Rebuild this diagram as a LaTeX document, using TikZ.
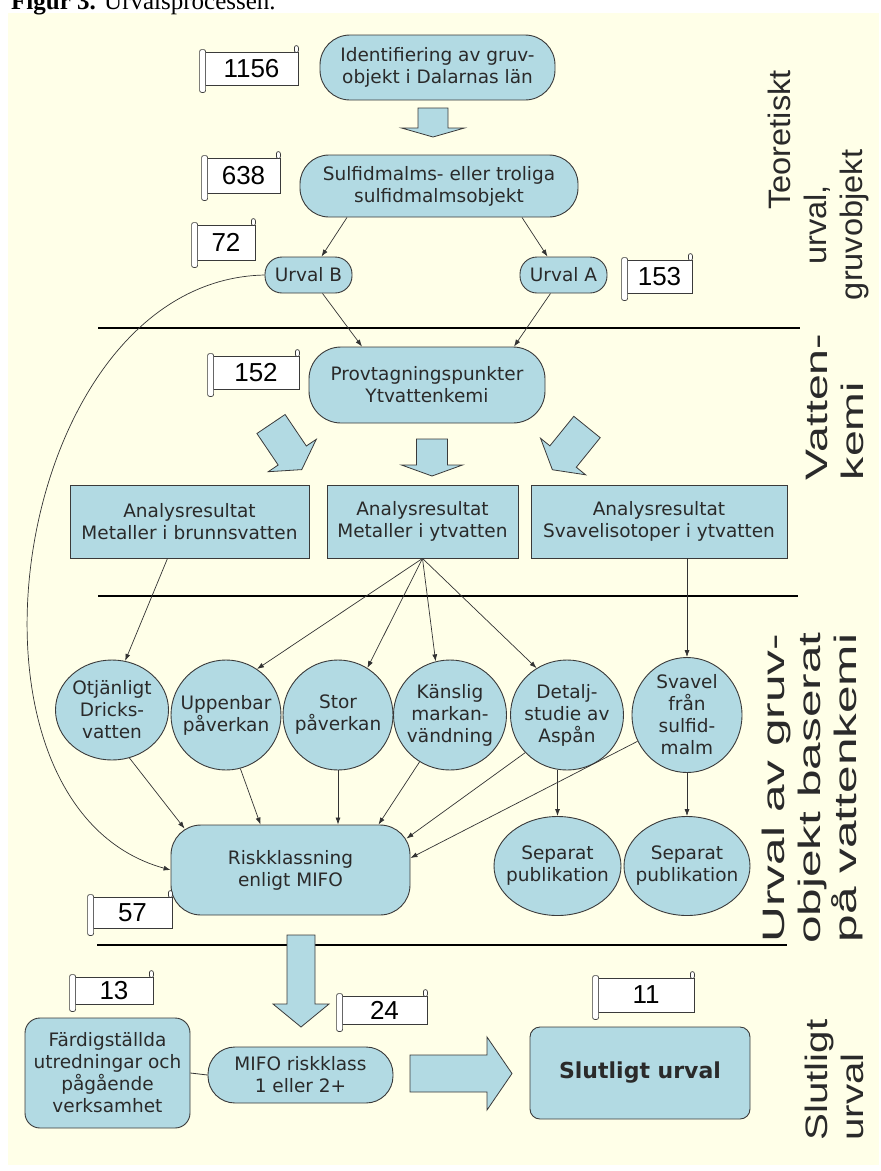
\documentclass[tikz,border=0pt]{standalone}
\usepackage{fontspec}
\usepackage{xcolor}
\usetikzlibrary{arrows.meta,shapes.geometric}
\newfontfamily\rutfont{DejaVu Sans}
\newfontfamily\talfont{Liberation Sans}
\newfontfamily\stegfontsmal[FakeStretch=1.05]{Liberation Sans}
\newfontfamily\stegfont[FakeStretch=1.3]{Liberation Sans}
\newfontfamily\stegfontbred[FakeStretch=1.5]{Liberation Sans}
\newfontfamily\stegfontxbred[FakeStretch=1.6]{Liberation Sans}
\newfontfamily\rubrikfont{Liberation Serif}
\definecolor{Gradde}{HTML}{FFFFE8}
\definecolor{RutFill}{HTML}{B2DAE3}
\definecolor{RutLine}{HTML}{3A3A3A}
\definecolor{RutText}{HTML}{2A2A2A}
\definecolor{PilLine}{HTML}{333333}
\tikzset{
  rut/.style={
    draw=RutLine,
    fill=RutFill,
    line width=0.9pt,
    inner sep=2pt,
    align=center,
    font=\rutfont\fontsize{18.5}{22}\selectfont,
    text=RutText,
  },
  pille/.style={rut, rectangle},
  urvalsboll/.style={rut, ellipse, inner sep=-12pt},
  tal/.style={
    draw=RutLine,
    fill=white,
    line width=0.8pt,
    inner sep=0pt,
    font=\talfont\fontsize{26}{26}\selectfont,
  },
  rulle/.style={draw=RutLine, fill=white, line width=0.7pt, rounded corners=2pt},
  flow/.style={
    -{Latex[length=7pt,width=5pt]},
    line width=0.7pt,
    draw=PilLine,
  },
  skiljelinje/.style={line width=1.1pt, draw=black},
  pilkropp/.style={draw=RutLine, fill=RutFill, line width=0.8pt, line join=miter},
  sidotext/.style={
    rotate=90,
    inner sep=0pt,
    font=#1\fontsize{31}{36}\selectfont,
    text=RutText,
  },
  pics/blockpil/.style args={#1/#2/#3/#4}{code={
    \draw[pilkropp] (0,-#2/2) -- (#1-#4,-#2/2) -- (#1-#4,-#3/2) -- (#1,0)
      -- (#1-#4,#3/2) -- (#1-#4,#2/2) -- (0,#2/2) -- cycle;
  }},
}

\begin{document}
\begin{tikzpicture}[x=1pt, y=-1pt]
  \useasboundingbox (0,0) rectangle (881,1171);
  \clip (0,0) rectangle (881,1171);
  \fill[Gradde] (8,13) rectangle (879,1165);

  % rubrik
  \node[anchor=base west, inner sep=0pt, font=\rubrikfont\fontsize{25}{25}\selectfont]
    (rubrik) at (11,9) {\textbf{Figur 3.} Urvalsprocessen.};

  % skiljelinjer
  \draw[skiljelinje] (98,328) -- (800,328);
  \draw[skiljelinje] (98,596) -- (798,596);
  \draw[skiljelinje] (97,945) -- (787,945);

  % teoretiskt urval
  \node[pille, rounded corners=30pt, minimum width=235pt, minimum height=65pt]
    (ident) at (437.5,67.5) {Identifiering av gruv-\\objekt i Dalarnas län};
  \node[pille, rounded corners=29pt, minimum width=278pt, minimum height=62pt]
    (sulf) at (439,186) {Sulfidmalms- eller troliga\\sulfidmalmsobjekt};
  \node[pille, rounded corners=17pt, minimum width=87pt, minimum height=36pt]
    (urvB) at (308.5,275) {Urval B};
  \node[pille, rounded corners=17pt, minimum width=87pt, minimum height=36pt]
    (urvA) at (563.5,275) {Urval A};

  % vattenkemi
  \node[pille, rounded corners=32pt, minimum width=236pt, minimum height=76pt]
    (prov) at (427,385) {Provtagningspunkter\\Ytvattenkemi};
  \node[pille, minimum width=239pt, minimum height=73pt]
    (box1) at (189.5,521.5) {Analysresultat\\Metaller i brunnsvatten};
  \node[pille, minimum width=191pt, minimum height=73pt]
    (box2) at (422.5,521.5) {Analysresultat\\Metaller i ytvatten};
  \node[pille, minimum width=256pt, minimum height=73pt]
    (box3) at (659,521.5) {Analysresultat\\Svavelisotoper i ytvatten};

  % urval baserat på vattenkemi
  \node[urvalsboll, minimum width=113pt, minimum height=100pt]
    (otj) at (112,710) {Otjänligt\\Dricks-\\vatten};
  \node[urvalsboll, minimum width=110pt, minimum height=110pt]
    (upp) at (226,715) {Uppenbar\\påverkan};
  \node[urvalsboll, minimum width=110pt, minimum height=110pt]
    (stor) at (338,715) {Stor\\påverkan};
  \node[urvalsboll, minimum width=113pt, minimum height=110pt]
    (knl) at (450,715) {Känslig\\markan-\\vändning};
  \node[urvalsboll, minimum width=113pt, minimum height=110pt]
    (det) at (567,715) {Detalj-\\studie av\\Aspån};
  \node[urvalsboll, minimum width=110pt, minimum height=115pt]
    (sv) at (687,715) {Svavel\\från\\sulfid-\\malm};
  \node[pille, rounded corners=30pt, minimum width=239pt, minimum height=90pt]
    (risk) at (290.5,870) {Riskklassning\\enligt MIFO};
  \node[urvalsboll, minimum width=127pt, minimum height=99pt]
    (sep1) at (557.5,866) {Separat\\publikation};
  \node[urvalsboll, minimum width=126pt, minimum height=99pt]
    (sep2) at (687,866) {Separat\\publikation};

  % slutligt urval
  \node[pille, rounded corners=15pt, minimum width=165pt, minimum height=110pt]
    (ferd) at (107.5,1073) {Färdigställda\\utredningar och\\pågående\\verksamhet};
  \node[pille, rounded corners=27pt, minimum width=185pt, minimum height=56pt]
    (mifo) at (300.5,1075) {MIFO riskklass\\1 eller 2+};
  \node[pille, rounded corners=10pt, minimum width=220pt, minimum height=92pt,
    font=\rutfont\bfseries\fontsize{22}{26}\selectfont]
    (slut) at (640,1073) {Slutligt urval};

  % antal
  \node[tal, minimum width=93pt, minimum height=33pt] (t1156) at (251.5,68.5) {1156};
  \node[tal, minimum width=73pt, minimum height=35pt] (t638) at (243.5,175.5) {638};
  \node[tal, minimum width=58pt, minimum height=35pt] (t72) at (226,242.5) {72};
  \node[tal, minimum width=65pt, minimum height=33pt] (t153) at (659.5,276.5) {153};
  \node[tal, minimum width=86pt, minimum height=33pt] (t152) at (256,372.5) {152};
  \node[tal, minimum width=79pt, minimum height=31pt] (t57) at (132.5,912.5) {57};
  \node[tal, minimum width=78pt, minimum height=27pt] (t13) at (114,990.5) {13};
  \node[tal, minimum width=85pt, minimum height=28pt] (t24) at (384.5,1010) {24};
  \node[tal, minimum width=96pt, minimum height=34pt] (t11) at (646,995) {11};
  \foreach \tn in {t1156,t638,t72,t153,t152,t57,t13,t24,t11}{
    \draw[rulle] ([xshift=-5pt,yshift=2pt]\tn.north west)
      rectangle ([xshift=1pt,yshift=-7pt]\tn.south west);
    \draw[rulle] ([xshift=-4pt,yshift=-1pt]\tn.north east)
      rectangle ([yshift=6pt]\tn.north east);
  }

  % blockpilar
  \pic[rotate=-90] at (433,108) {blockpil=29/30/63/9};
  \pic[rotate=-90] at (432,439) {blockpil=37/31/61/11};
  \pic[rotate=-56] at (271,424) {blockpil=55/34/58/17};
  \pic[rotate=-129] at (587,427) {blockpil=55/34/58/17};
  \pic[rotate=-90] at (301,935) {blockpil=92/28/56/23};
  \pic at (410,1073.5) {blockpil=102/37/73/25};

  % pilar
  \draw[flow] ([xshift=-92pt]sulf.south) -- ([xshift=13pt]urvB.north);
  \draw[flow] ([xshift=83pt]sulf.south) -- ([xshift=-16pt]urvA.north);
  \draw[flow] ([xshift=14pt]urvB.south) -- ([xshift=-65pt]prov.north);
  \draw[flow] ([xshift=-13pt]urvA.south) -- ([xshift=87pt]prov.north);
  \draw[flow] (urvB.west) .. controls (10,280) and (-65,805) .. (risk.west);
  \draw[flow] ([xshift=-22pt]box1.south) -- (otj.75);
  \foreach \mal/\vinkel in {upp/56, stor/58, knl/105, det/123}
    \draw[flow] (box2.south) -- (\mal.\vinkel);
  \draw[flow] (sv.north |- box3.south) -- (sv.north);
  \draw[flow] (otj.-70) -- ([xshift=14pt,yshift=-4pt]risk.north west);
  \draw[flow] (upp.-75) -- ([xshift=-30pt]risk.north);
  \draw[flow] (stor.south) -- (stor.south |- risk.north);
  \draw[flow] (knl.-123) -- ([xshift=88pt]risk.north);
  \draw[flow] (det.-138) -- ([xshift=-4pt,yshift=-14pt]risk.north east);
  \draw[flow] (sv.-152) -- ([yshift=12pt]risk.east);
  \draw[flow] (sep1.north |- det.south) -- (sep1.north);
  \draw[flow] (sv.south) -- (sep2.north);
  \draw[line width=0.8pt, draw=PilLine] (ferd.east) -- (mifo.west);

  % sidorubriker
  \node[sidotext=\stegfontsmal, align=center] (steg1) at (818,225)
    {\hspace*{170pt}Teoretiskt\\urval,\\gruvobjekt};
  \node[sidotext=\stegfontbred, align=left] (steg2) at (835,407) {Vatten-\\kemi};
  \node[sidotext=\stegfontxbred, align=center] (steg3) at (812,788)
    {Urval av gruv-\\objekt baserat\\på vattenkemi};
  \node[sidotext=\stegfont, align=left] (steg4) at (834,1080) {Slutligt\\urval};
\end{tikzpicture}
\end{document}
